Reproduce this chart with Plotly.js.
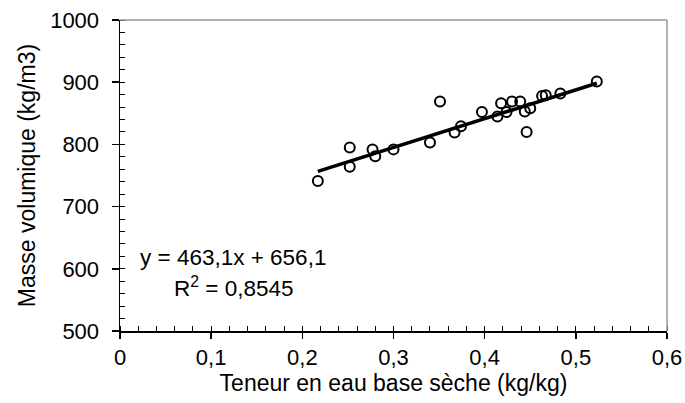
<!DOCTYPE html>
<html>
<head>
<meta charset="utf-8">
<script src="https://cdn.plot.ly/plotly-3.0.1.min.js"></script>
<style>body{margin:0;padding:0;background:#fff;}#chart{width:685px;height:403px;}</style>
</head>
<body>
<div id="chart"></div>
<script>
// Data
const teneurEau = [0.217, 0.252, 0.252, 0.277, 0.280, 0.300, 0.340, 0.351, 0.367, 0.374, 0.397, 0.414, 0.418, 0.424, 0.430, 0.439, 0.444, 0.446, 0.450, 0.463, 0.467, 0.483, 0.523];
const masseVolumique = [741, 795, 764, 792, 781, 792, 803, 869, 819, 829, 852, 845, 866, 852, 869, 869, 853, 820, 858, 878, 879, 882, 901];
const pente = 463.1;
const ordonnee = 656.1;
const equationLabel = "y = 463,1x + 656,1";
const r2Label = "R<sup>2</sup> = 0,8545";
const xTitle = "Teneur en eau base sèche (kg/kg)";
const yTitle = "Masse volumique (kg/m3)";

const xMin = Math.min(...teneurEau), xMax = Math.max(...teneurEau);
const trendX = [xMin, xMax];
const trendY = trendX.map(v => pente * v + ordonnee);

const fam = "Arial, 'Liberation Sans', sans-serif";
const tickFont = {family: fam, size: 22, color: "#000"};
const titleFont = {family: fam, size: 23, color: "#000"};
const annFont = {family: fam, size: 22.5, color: "#000"};

const traces = [
  {x: trendX, y: trendY, mode: "lines", line: {color: "#000", width: 3.5}, hoverinfo: "skip", showlegend: false},
  {x: teneurEau, y: masseVolumique, mode: "markers",
   marker: {symbol: "circle-open", size: 10, color: "#000", line: {width: 2, color: "#000"}}, showlegend: false}
];

const layout = {
  width: 685, height: 403,
  margin: {l: 120, r: 18, t: 20, b: 72},
  paper_bgcolor: "#fff", plot_bgcolor: "#fff",
  font: tickFont,
  separators: ", ",
  showlegend: false,
  xaxis: {
    range: [0, 0.6], dtick: 0.1, tick0: 0, showgrid: false, zeroline: false,
    showline: true, linecolor: "#000", linewidth: 1.5,
    ticks: "outside", ticklen: 6, tickwidth: 1.5, tickcolor: "#000",
    minor: {ticks: "inside", dtick: 0.02, ticklen: 5, tickwidth: 1, tickcolor: "#000", showgrid: false},
    tickfont: tickFont,
    title: {text: xTitle, font: titleFont, standoff: 2}
  },
  yaxis: {
    range: [500, 1000], dtick: 100, tick0: 500, showgrid: false, zeroline: false,
    showline: true, linecolor: "#000", linewidth: 1.5,
    ticks: "outside", ticklen: 7, tickwidth: 1.5, tickcolor: "#000",
    minor: {ticks: "inside", dtick: 20, ticklen: 5, tickwidth: 1, tickcolor: "#000", showgrid: false},
    tickfont: tickFont,
    ticklabelstandoff: 8,
    title: {text: yTitle, font: titleFont, standoff: 8}
  },
  shapes: [
    {type: "line", xref: "paper", yref: "paper", x0: 0, x1: 1, y0: 1, y1: 1, line: {color: "#999", width: 1.5}},
    {type: "line", xref: "paper", yref: "paper", x0: 1, x1: 1, y0: 0, y1: 1, line: {color: "#999", width: 1.5}}
  ],
  annotations: [
    {x: 0.124, y: 618, xref: "x", yref: "y", text: equationLabel, showarrow: false, font: annFont, xanchor: "center", yanchor: "middle"},
    {x: 0.124, y: 571, xref: "x", yref: "y", text: r2Label, showarrow: false, font: annFont, xanchor: "center", yanchor: "middle"}
  ]
};

Plotly.newPlot("chart", traces, layout, {displayModeBar: false, staticPlot: true});
</script>
</body>
</html>
